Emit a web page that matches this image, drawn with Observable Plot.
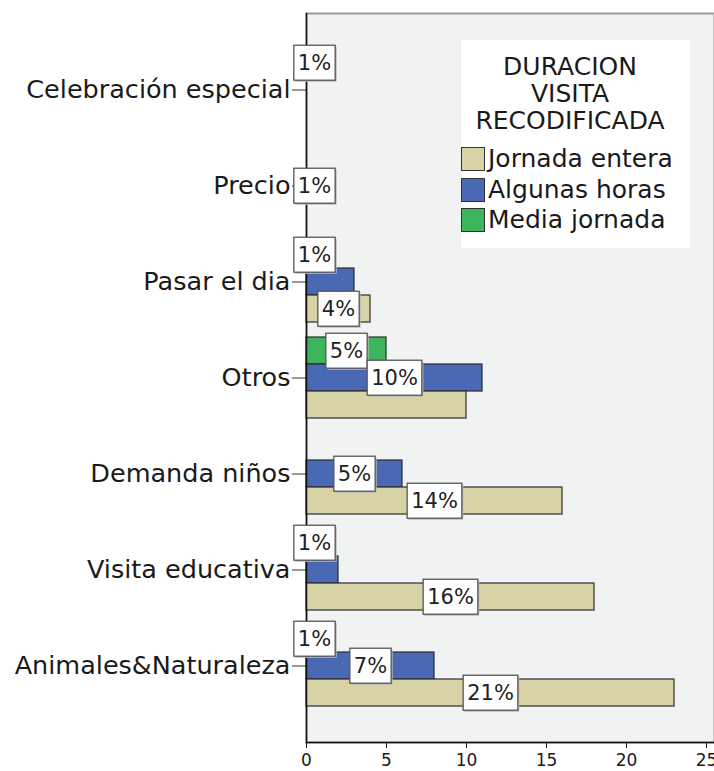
<!DOCTYPE html>
<html><head><meta charset="utf-8">
<script src="https://cdn.jsdelivr.net/npm/d3@7"></script>
<script src="https://cdn.jsdelivr.net/npm/@observablehq/plot@0.6"></script>
<style>
body{margin:0;background:#fff;font-family:"DejaVu Sans",sans-serif;}
#wrap{position:relative;width:714px;height:771px;overflow:hidden;}
#legend{position:absolute;left:461px;top:40px;width:229px;height:208px;background:#fff;color:#1a1a1a;font-size:25px;}
#legend .title{text-align:center;line-height:27px;padding:13px 11px 0 0;height:91px;}
#legend .item{height:30.5px;line-height:30.5px;display:flex;align-items:center;white-space:nowrap;}
#legend .sw{width:22px;height:22px;border:1px solid #333;margin-right:3px;flex:none;}
</style></head><body><div id="wrap"></div>
<script>
const categories = ["Celebración especial","Precio","Pasar el dia","Otros","Demanda niños","Visita educativa","Animales&Naturaleza"];
const seriesNames = ["Jornada entera","Algunas horas","Media jornada"];
const seriesColors = ["#d8d3a6","#4a69b4","#3cb55c"];
const legendTitle = ["DURACION","VISITA","RECODIFICADA"];
// counts (x axis)
const jornadaEntera = [0, 0, 4, 10, 16, 18, 23];
const algunasHoras  = [0, 1, 3, 11, 6, 2, 8];
const mediaJornada  = [1, 0, 1, 5, 0, 1, 1];
// percentage labels shown in the chart ("" = not shown)
const jornadaLabels = ["", "", "4%", "", "14%", "16%", "21%"];
const algunasLabels = ["", "1%", "", "10%", "5%", "", "7%"];
const mediaLabels   = ["1%", "", "1%", "5%", "", "1%", "1%"];
const xTicks = [0, 5, 10, 15, 20, 25];

const rows = (vals, labels) => categories.map((c, i) => ({cat: c, value: vals[i], label: labels[i]}));
const layers = [
  {data: rows(mediaJornada, mediaLabels), color: seriesColors[2], dy: -27},
  {data: rows(algunasHoras, algunasLabels), color: seriesColors[1], dy: 0},
  {data: rows(jornadaEntera, jornadaLabels), color: seriesColors[0], dy: 27}
];

const chart = Plot.plot({
  width: 714, height: 771,
  marginLeft: 306, marginRight: 0, marginTop: 13, marginBottom: 29,
  style: {fontFamily: "DejaVu Sans, sans-serif", color: "#1a1a1a", background: "white"},
  x: {domain: [0, 25.5], ticks: xTicks},
  y: {domain: categories, paddingInner: 0.71875, paddingOuter: 0.65625, align: 0.5},
  marks: [
    Plot.frame({fill: "#f1f2f2", stroke: "#999", strokeWidth: 2}),
    ...layers.map(l => Plot.barX(l.data.filter(d => d.value > 0), {
      x: "value", y: "cat", dy: l.dy, fill: l.color, stroke: "#2b2b2b", strokeWidth: 1.2
    })),
    Plot.axisX({ticks: xTicks, tickSize: 6, tickPadding: 5, fontSize: 17, label: null, stroke: "#111"}),
    Plot.axisY({tickSize: 14, tickPadding: 2, fontSize: 25.5, label: null, stroke: "#333"}),
    Plot.frame({anchor: "left", stroke: "#111", strokeWidth: 1.5}),
    Plot.frame({anchor: "bottom", stroke: "#111", strokeWidth: 1.5}),
    ...layers.map(l => Plot.text(l.data.filter(d => d.label !== ""), {
      x: d => d.value / 2, y: "cat", dy: l.dy, text: "label",
      fontSize: 21, fill: "#222"
    }))
  ]
});

const wrap = document.getElementById("wrap");
wrap.appendChild(chart);

// white boxes behind percentage labels
chart.querySelectorAll('g[aria-label="text"] text').forEach(t => {
  const bb = t.getBBox();
  const cx = bb.x + bb.width / 2, cy = bb.y + bb.height / 2;
  const w = bb.width + 8, h = 35;
  const ns = "http://www.w3.org/2000/svg";
  const sh = document.createElementNS(ns, "rect");
  sh.setAttribute("x", cx - w / 2 + 1.5); sh.setAttribute("y", cy - h / 2 + 1.5);
  sh.setAttribute("width", w); sh.setAttribute("height", h);
  sh.setAttribute("fill", "#bbb");
  const r = document.createElementNS(ns, "rect");
  r.setAttribute("x", cx - w / 2); r.setAttribute("y", cy - h / 2);
  r.setAttribute("width", w); r.setAttribute("height", h);
  r.setAttribute("fill", "white"); r.setAttribute("stroke", "#555"); r.setAttribute("stroke-width", 1.3);
  if (t.getAttribute("transform")) { r.setAttribute("transform", t.getAttribute("transform")); sh.setAttribute("transform", t.getAttribute("transform")); }
  t.parentNode.insertBefore(sh, t);
  t.parentNode.insertBefore(r, t);
});

// legend
const lg = document.createElement("div");
lg.id = "legend";
const title = document.createElement("div");
title.className = "title";
title.innerHTML = legendTitle.join("<br>");
lg.appendChild(title);
seriesNames.forEach((n, i) => {
  const it = document.createElement("div");
  it.className = "item";
  const sw = document.createElement("span");
  sw.className = "sw"; sw.style.background = seriesColors[i];
  it.appendChild(sw);
  it.appendChild(document.createTextNode(n));
  lg.appendChild(it);
});
wrap.appendChild(lg);
</script>
</body></html>
